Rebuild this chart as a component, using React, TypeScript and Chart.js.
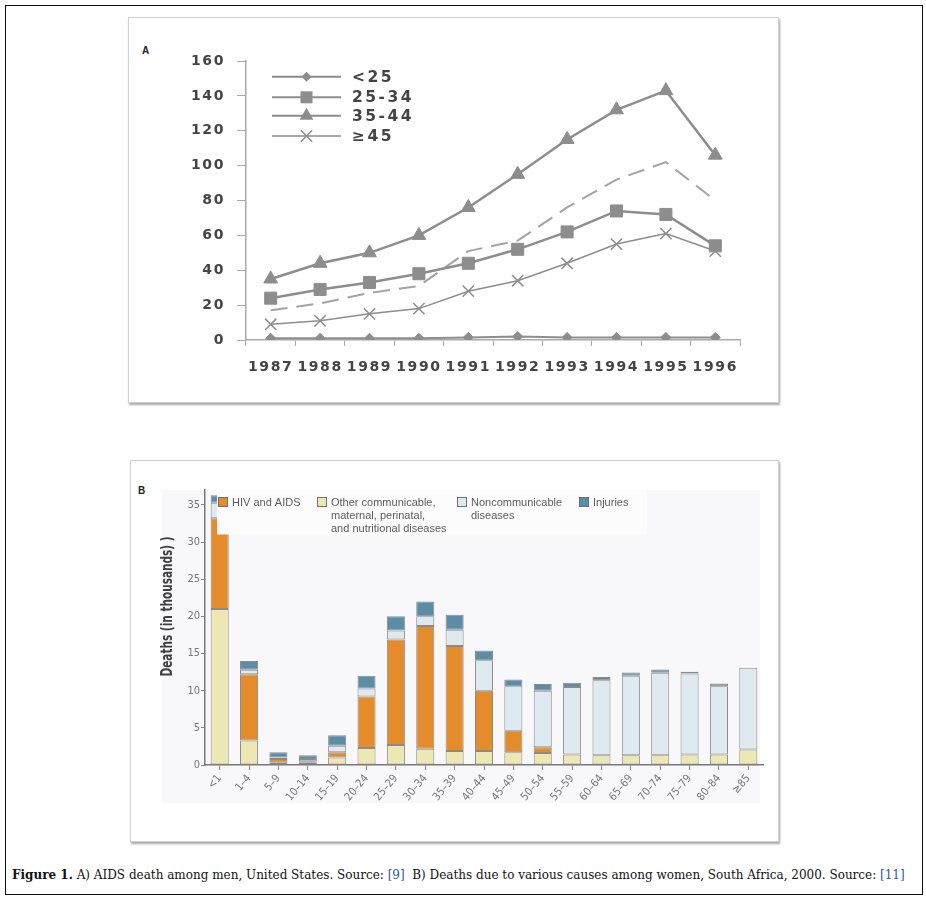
import React, { useEffect, useRef } from 'react';
import { Chart, registerables } from 'chart.js';

Chart.register(...registerables);

// ---------- Panel A data ----------
const yearsA = ['1987', '1988', '1989', '1990', '1991', '1992', '1993', '1994', '1995', '1996'];
const under25 = [1, 1, 1, 1, 1.5, 2, 1.5, 1.5, 1.5, 1.5];
const age25to34 = [24, 29, 33, 38, 44, 52, 62, 74, 72, 54];
const age35to44 = [35, 44, 50, 60, 76, 95, 115, 132, 143, 106];
const age45plus = [9, 11, 15, 18, 28, 34, 44, 55, 61, 51];
const dashedSeries = [17, 21, 27, 31, 51, 57, 76, 92, 102, 80];
const legendLabelsA = ['<25', '25-34', '35-44', '≥45'];

// ---------- Panel B data ----------
const ageGroupsB = ['<1', '1–4', '5–9', '10–14', '15–19', '20–24', '25–29', '30–34', '35–39', '40–44', '45–49', '50–54', '55–59', '60–64', '65–69', '70–74', '75–79', '80–84', '≥85'];
const otherCommunicable = [21, 3.3, 0.3, 0.3, 1.0, 2.3, 2.7, 2.2, 1.9, 1.9, 1.7, 1.6, 1.4, 1.3, 1.3, 1.3, 1.4, 1.4, 2.1];
const hivAids = [12.2, 8.9, 0.5, 0.2, 0.7, 6.9, 14.2, 16.5, 14.1, 8.1, 2.9, 0.8, 0, 0, 0, 0, 0, 0, 0];
const nonCommunicable = [2.1, 0.6, 0.2, 0.3, 0.9, 1.1, 1.2, 1.3, 2.2, 4.1, 6.0, 7.6, 9.1, 10.1, 10.7, 11.1, 10.9, 9.2, 11.0];
const injuries = [1.0, 1.2, 0.7, 0.5, 1.4, 1.7, 1.9, 2.0, 2.0, 1.3, 0.9, 0.9, 0.55, 0.45, 0.45, 0.45, 0.25, 0.35, 0];

const GRAY = '#8d8d8d';
const FONT_A = '"DejaVu Sans", sans-serif';
const NARROW = '"Liberation Sans Narrow", "DejaVu Sans Condensed", sans-serif';
const SANS = '"Liberation Sans", Arial, sans-serif';

const C_HIV = '#e48b2b';
const C_OTHER = '#ede8b3';
const C_NCD = '#dfeaf0';
const C_INJ = '#5b8ea6';
const C_BORDER = '#8a8a8a';

function drawMarker(ctx: CanvasRenderingContext2D, style: string, x: number, y: number, r: number) {
  ctx.beginPath();
  if (style === 'rectRot') {
    ctx.moveTo(x - r, y); ctx.lineTo(x, y - r); ctx.lineTo(x + r, y); ctx.lineTo(x, y + r); ctx.closePath(); ctx.fill();
  } else if (style === 'rect') {
    const s = r * Math.SQRT1_2; ctx.rect(x - s, y - s, 2 * s, 2 * s); ctx.fill();
  } else if (style === 'triangle') {
    let a = 0;
    ctx.moveTo(x + Math.sin(a) * r, y - Math.cos(a) * r);
    a += (2 * Math.PI) / 3; ctx.lineTo(x + Math.sin(a) * r, y - Math.cos(a) * r);
    a += (2 * Math.PI) / 3; ctx.lineTo(x + Math.sin(a) * r, y - Math.cos(a) * r);
    ctx.closePath(); ctx.fill();
  } else if (style === 'crossRot') {
    const d = r * Math.SQRT1_2;
    ctx.moveTo(x - d, y - d); ctx.lineTo(x + d, y + d);
    ctx.moveTo(x + d, y - d); ctx.lineTo(x - d, y + d);
    ctx.stroke();
  }
}

function ChartA() {
  const ref = useRef<HTMLCanvasElement>(null);
  useEffect(() => {
    const spacing = {
      id: 'spacingA',
      beforeLayout(chart: any) { chart.ctx.letterSpacing = '1.6px'; },
      beforeDraw(chart: any) { chart.ctx.letterSpacing = '1.6px'; },
    };
    const legendA = {
      id: 'legendA',
      afterDraw(chart: any) {
        const ctx: CanvasRenderingContext2D = chart.ctx;
        const styles = ['rectRot', 'rect', 'triangle', 'crossRot'];
        const radii = [5, 8.5, 8, 8];
        const rows = [58.7, 79.3, 97.7, 118];
        ctx.save();
        (ctx as any).letterSpacing = '2.5px';
        rows.forEach((y, i) => {
          ctx.strokeStyle = GRAY; ctx.fillStyle = GRAY;
          ctx.lineWidth = i === 3 ? 1.5 : 2;
          ctx.beginPath(); ctx.moveTo(143, y); ctx.lineTo(212, y); ctx.stroke();
          ctx.lineWidth = 1.5;
          drawMarker(ctx, styles[i], 177.5, y, radii[i]);
          ctx.fillStyle = '#444';
          ctx.font = `bold 15.5px ${FONT_A}`;
          ctx.textBaseline = 'middle';
          ctx.textAlign = 'left';
          ctx.fillText(legendLabelsA[i], 223, y + 1);
        });
        ctx.restore();
      },
    };
    const tickFont = { family: FONT_A, size: 14, weight: 'bold' as const };
    const chart = new Chart(ref.current!, {
      type: 'line',
      data: {
        labels: yearsA,
        datasets: [
          { label: legendLabelsA[0], data: under25, borderColor: GRAY, backgroundColor: GRAY, borderWidth: 2, pointStyle: 'rectRot', pointRadius: 5, pointBorderWidth: 1 },
          { label: legendLabelsA[1], data: age25to34, borderColor: GRAY, backgroundColor: GRAY, borderWidth: 2.5, pointStyle: 'rect', pointRadius: 8.5, pointBorderWidth: 1 },
          { label: legendLabelsA[2], data: age35to44, borderColor: GRAY, backgroundColor: GRAY, borderWidth: 2.5, pointStyle: 'triangle', pointRadius: 8, pointBorderWidth: 1 },
          { label: legendLabelsA[3], data: age45plus, borderColor: GRAY, backgroundColor: GRAY, borderWidth: 1.5, pointStyle: 'crossRot', pointRadius: 8, pointBorderWidth: 1.5 },
          { label: '', data: dashedSeries, borderColor: '#a3a3a3', borderWidth: 2, borderDash: [17, 9], pointRadius: 0 },
        ],
      },
      options: {
        animation: false,
        responsive: false,
        maintainAspectRatio: false,
        layout: { padding: { left: 0, right: 39, top: 43, bottom: 0 } },
        plugins: { legend: { display: false }, tooltip: { enabled: false } },
        scales: {
          x: {
            offset: true,
            grid: { offset: true, drawOnChartArea: false, tickLength: 6, color: '#aaa' },
            border: { color: '#aaa', width: 1.5 },
            ticks: { color: '#444', font: tickFont, padding: 13, maxRotation: 0, minRotation: 0, autoSkip: false },
            afterFit: (s: any) => { s.height = 62; },
          },
          y: {
            min: 0, max: 160,
            grid: { drawOnChartArea: false, tickLength: 9, color: '#aaa' },
            border: { color: '#aaa', width: 1.5 },
            ticks: { stepSize: 20, color: '#444', font: tickFont, padding: 12 },
            afterFit: (s: any) => { s.width = 117; },
          },
        },
      },
      plugins: [spacing, legendA],
    });
    return () => chart.destroy();
  }, []);
  return <canvas ref={ref} width={650} height={384} style={{ position: 'absolute', left: 129, top: 18, width: 650, height: 384 }} />;
}

function ChartB() {
  const ref = useRef<HTMLCanvasElement>(null);
  useEffect(() => {
    const legendB = {
      id: 'legendB',
      afterDatasetsDraw(chart: any) {
        const ctx: CanvasRenderingContext2D = chart.ctx;
        ctx.save();
        // legend background box
        ctx.fillStyle = '#fcfcfd';
        ctx.fillRect(86, chart.chartArea.top, 430, 44.5);
        const items = [
          { color: C_HIV, x: 87, lines: ['HIV and AIDS'] },
          { color: C_OTHER, x: 186, lines: ['Other communicable,', 'maternal, perinatal,', 'and nutritional diseases'] },
          { color: C_NCD, x: 326, lines: ['Noncommunicable', 'diseases'] },
          { color: C_INJ, x: 448, lines: ['Injuries'] },
        ];
        items.forEach((it) => {
          ctx.fillStyle = it.color;
          ctx.fillRect(it.x, 36, 10, 10);
          ctx.strokeStyle = '#6f6f6f';
          ctx.lineWidth = 1;
          ctx.strokeRect(it.x + 0.5, 36.5, 9, 9);
          ctx.fillStyle = '#5c5c5c';
          ctx.font = `11px ${SANS}`;
          ctx.textBaseline = 'middle';
          ctx.textAlign = 'left';
          it.lines.forEach((t, j) => ctx.fillText(t, it.x + 14, 41.5 + j * 13));
        });
        ctx.restore();
      },
      afterDraw(chart: any) {
        const ctx: CanvasRenderingContext2D = chart.ctx;
        ctx.save();
        ctx.translate(37.5, 145.5);
        ctx.rotate(-Math.PI / 2);
        ctx.fillStyle = '#3f3f3f';
        ctx.font = `bold 15px ${NARROW}`;
        ctx.textAlign = 'center';
        ctx.textBaseline = 'middle';
        ctx.fillText('Deaths (in thousands) )', 0, 0, 140);
        ctx.restore();
      },
    };
    const ds = (label: string, data: number[], color: string) => ({
      label, data, backgroundColor: color, borderColor: C_BORDER, borderWidth: 1, borderSkipped: false as const,
      barPercentage: 0.615, categoryPercentage: 1,
    });
    const tickFont = { family: NARROW, size: 11 };
    const chart = new Chart(ref.current!, {
      type: 'bar',
      data: {
        labels: ageGroupsB,
        datasets: [
          ds('Other communicable, maternal, perinatal, and nutritional diseases', otherCommunicable, C_OTHER),
          ds('HIV and AIDS', hivAids, C_HIV),
          ds('Noncommunicable diseases', nonCommunicable, C_NCD),
          ds('Injuries', injuries, C_INJ),
        ],
      },
      options: {
        animation: false,
        responsive: false,
        maintainAspectRatio: false,
        layout: { padding: { left: 0, right: 15, top: 29, bottom: 0 } },
        plugins: { legend: { display: false }, tooltip: { enabled: false } },
        scales: {
          x: {
            stacked: true,
            grid: { offset: false, drawOnChartArea: false, tickLength: 5, color: '#888' },
            border: { color: '#777', width: 1.5 },
            ticks: { color: '#777', font: tickFont, minRotation: 50, maxRotation: 50, autoSkip: false, padding: 2 },
            afterFit: (s: any) => { s.height = 75; },
          },
          y: {
            stacked: true,
            min: 0, max: 37,
            grid: { drawOnChartArea: false, tickLength: 4, color: '#888' },
            border: { color: '#777', width: 1.5 },
            ticks: { stepSize: 5, includeBounds: false, color: '#777', font: tickFont, padding: 1 },
            afterFit: (s: any) => { s.width = 74; },
          },
        },
      },
      plugins: [legendB],
    });
    return () => chart.destroy();
  }, []);
  return <canvas ref={ref} width={647} height={379} style={{ position: 'absolute', left: 131, top: 461, width: 647, height: 379 }} />;
}

export default function App() {
  const panel: React.CSSProperties = {
    position: 'absolute', boxSizing: 'border-box', border: '1px solid #d2d2d2',
    boxShadow: '1px 2px 2px rgba(0,0,0,0.35)', background: '#fff',
  };
  return (
    <div style={{ position: 'absolute', left: 0, top: 0, width: 926, height: 902, background: '#fff', overflow: 'hidden' }}>
      <div style={{ position: 'absolute', left: 5, top: 5, width: 918, height: 890, boxSizing: 'border-box', border: '1px solid #111' }} />
      <div style={{ ...panel, left: 128, top: 17, width: 651, height: 386 }} />
      <div style={{ ...panel, left: 130, top: 460, width: 649, height: 382 }} />
      <div style={{ position: 'absolute', left: 162, top: 490, width: 598, height: 313, background: '#f8f7fa' }} />
      <div style={{ position: 'absolute', left: 142, top: 45, font: `bold 10px ${SANS}`, color: '#222' }}>A</div>
      <div style={{ position: 'absolute', left: 138, top: 485, font: `bold 10px ${SANS}`, color: '#222' }}>B</div>
      <ChartA />
      <ChartB />
      <div style={{ position: 'absolute', left: 12, top: 868, whiteSpace: 'nowrap', font: '12px "DejaVu Serif", serif', color: '#111' }}>
        <b>Figure 1.</b> A) AIDS death among men, United States. Source: <span style={{ color: '#2b5aa8' }}>[9]</span>{'\u00a0 '}B) Deaths due to various causes among women, South Africa, 2000. Source: <span style={{ color: '#2b5aa8' }}>[11]</span>
      </div>
    </div>
  );
}
